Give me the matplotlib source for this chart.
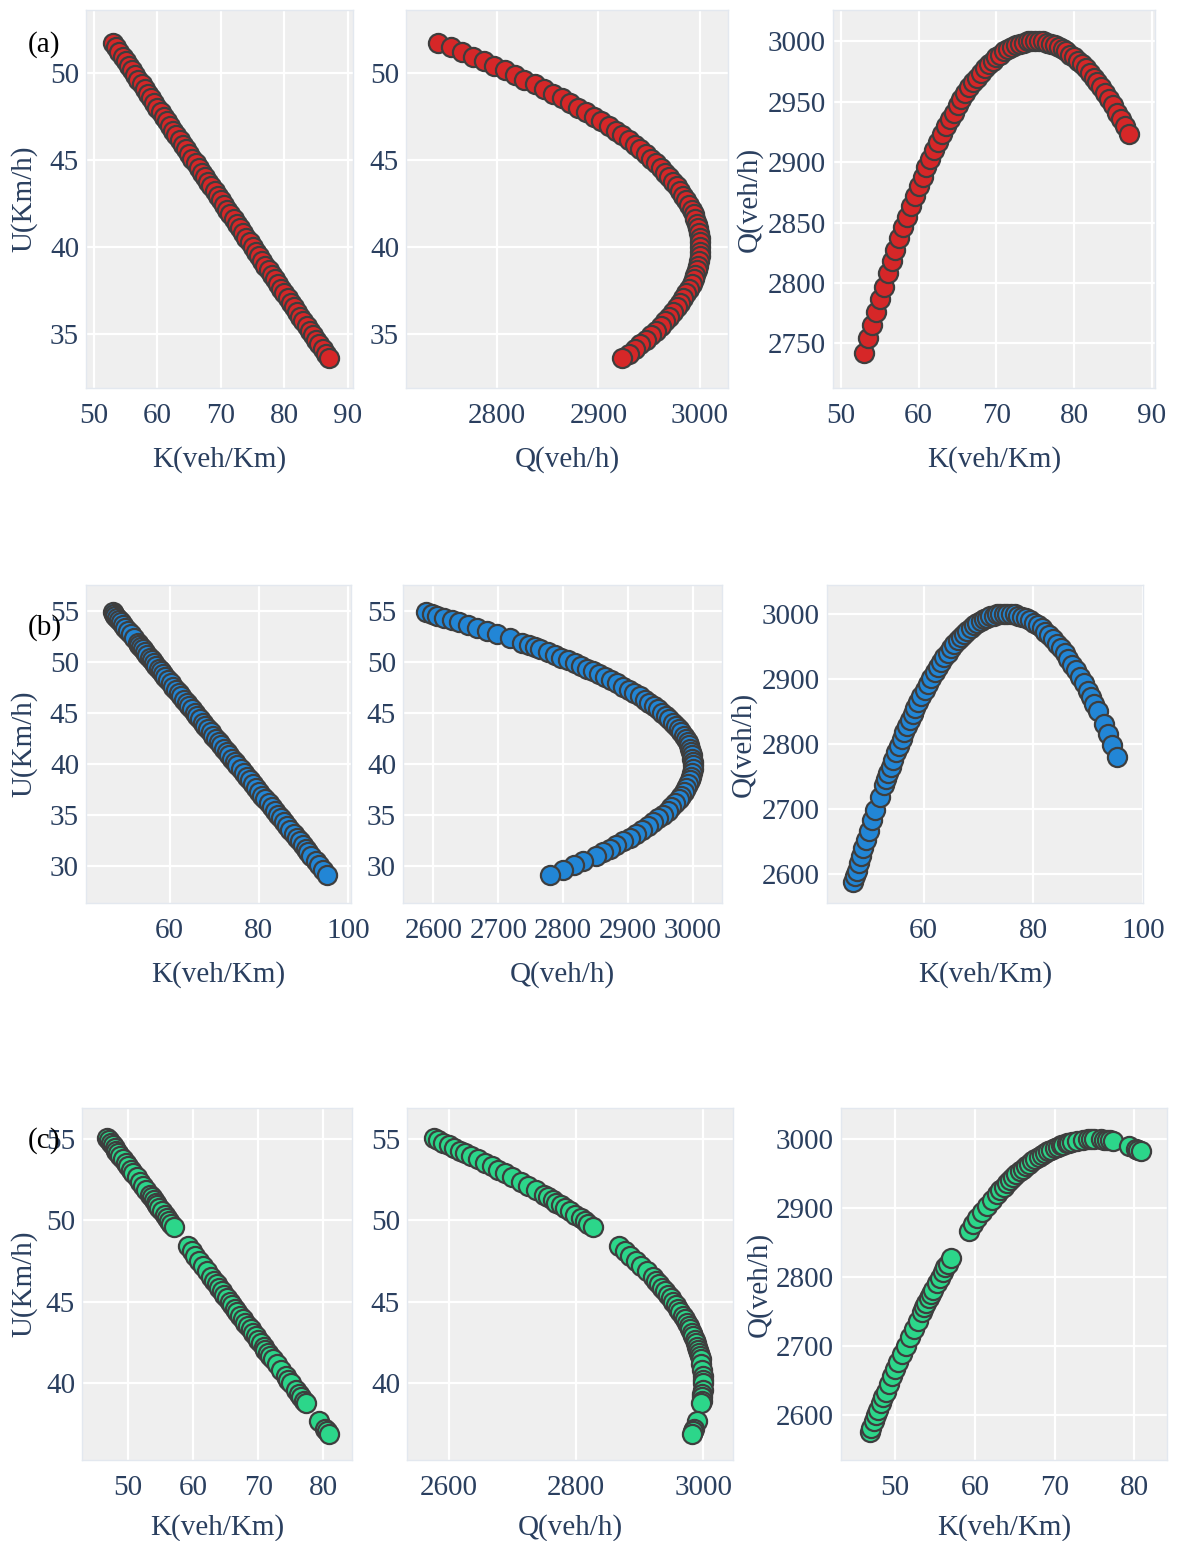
import matplotlib
matplotlib.use('Agg')
import matplotlib.pyplot as plt

# ---- data (K in veh/Km, U in Km/h, Q in veh/h) ----
k_a = [53.0, 53.5, 54.0, 54.5, 55.0, 55.5, 56.0, 56.5, 57.0, 57.5,
       58.0, 58.5, 59.0, 59.5, 60.0, 60.5, 61.0, 61.5, 62.0, 62.5,
       63.0, 63.5, 64.0, 64.5, 65.0, 65.5, 66.0, 66.5, 67.0, 67.5,
       68.0, 68.5, 69.0, 69.5, 70.0, 70.5, 71.0, 71.5, 72.0, 72.5,
       73.0, 73.5, 74.0, 74.5, 75.0, 75.5, 76.0, 76.5, 77.0, 77.5,
       78.0, 78.5, 79.0, 79.5, 80.0, 80.5, 81.0, 81.5, 82.0, 82.5,
       83.0, 83.5, 84.0, 84.5, 85.0, 85.5, 86.0, 86.5, 87.0]
u_a = [51.73, 51.47, 51.20, 50.93, 50.67, 50.40, 50.13, 49.87, 49.60, 49.33,
       49.07, 48.80, 48.53, 48.27, 48.00, 47.73, 47.47, 47.20, 46.93, 46.67,
       46.40, 46.13, 45.87, 45.60, 45.33, 45.07, 44.80, 44.53, 44.27, 44.00,
       43.73, 43.47, 43.20, 42.93, 42.67, 42.40, 42.13, 41.87, 41.60, 41.33,
       41.07, 40.80, 40.53, 40.27, 40.00, 39.73, 39.47, 39.20, 38.93, 38.67,
       38.40, 38.13, 37.87, 37.60, 37.33, 37.07, 36.80, 36.53, 36.27, 36.00,
       35.73, 35.47, 35.20, 34.93, 34.67, 34.40, 34.13, 33.87, 33.60]
q_a = [2742, 2754, 2765, 2776, 2787, 2797, 2808, 2818, 2827, 2837,
       2846, 2855, 2864, 2872, 2880, 2888, 2896, 2903, 2910, 2917,
       2923, 2930, 2936, 2941, 2947, 2952, 2957, 2962, 2966, 2970,
       2974, 2978, 2981, 2984, 2987, 2989, 2992, 2994, 2995, 2997,
       2998, 2999, 3000, 3000, 3000, 3000, 3000, 2999, 2998, 2997,
       2995, 2994, 2992, 2989, 2987, 2984, 2981, 2978, 2974, 2970,
       2966, 2962, 2957, 2952, 2947, 2941, 2936, 2930, 2923]

k_b = [47.2, 47.5, 47.8, 48.2, 48.6, 49.0, 49.5, 50.0, 50.6, 51.2,
       52.0, 52.8, 53.2, 53.6, 54.0, 54.5, 55.0, 55.5, 56.0, 56.5,
       57.0, 57.5, 58.0, 58.5, 59.0, 59.6, 60.2, 60.8, 61.4, 62.0,
       62.6, 63.2, 63.8, 64.4, 65.0, 65.6, 66.2, 66.8, 67.4, 68.0,
       68.6, 69.2, 69.8, 70.4, 71.0, 71.6, 72.2, 72.8, 73.4, 74.0,
       74.6, 75.2, 75.9, 76.6, 77.3, 78.0, 78.7, 79.4, 80.1, 80.8,
       81.5, 82.2, 82.9, 83.6, 84.3, 85.0, 85.7, 86.4, 87.1, 87.8,
       88.5, 89.2, 89.9, 90.5, 91.1, 91.8, 92.8, 93.6, 94.4, 95.3]
u_b = [54.83, 54.67, 54.51, 54.29, 54.08, 53.87, 53.60, 53.33, 53.01, 52.69,
       52.27, 51.84, 51.63, 51.41, 51.20, 50.93, 50.67, 50.40, 50.13, 49.87,
       49.60, 49.33, 49.07, 48.80, 48.53, 48.21, 47.89, 47.57, 47.25, 46.93,
       46.61, 46.29, 45.97, 45.65, 45.33, 45.01, 44.69, 44.37, 44.05, 43.73,
       43.41, 43.09, 42.77, 42.45, 42.13, 41.81, 41.49, 41.17, 40.85, 40.53,
       40.21, 39.89, 39.52, 39.15, 38.77, 38.40, 38.03, 37.65, 37.28, 36.91,
       36.53, 36.16, 35.79, 35.41, 35.04, 34.67, 34.29, 33.92, 33.55, 33.17,
       32.80, 32.43, 32.05, 31.73, 31.41, 31.04, 30.51, 30.08, 29.65, 29.17]
q_b = [2588, 2597, 2605, 2617, 2628, 2640, 2653, 2667, 2683, 2698,
       2718, 2737, 2747, 2756, 2765, 2776, 2787, 2797, 2808, 2818,
       2827, 2837, 2846, 2855, 2864, 2874, 2883, 2892, 2901, 2910,
       2918, 2926, 2933, 2940, 2947, 2953, 2959, 2964, 2969, 2974,
       2978, 2982, 2986, 2989, 2992, 2994, 2996, 2997, 2999, 2999,
       3000, 3000, 3000, 2999, 2997, 2995, 2993, 2990, 2986, 2982,
       2978, 2972, 2967, 2961, 2954, 2947, 2939, 2931, 2922, 2913,
       2903, 2893, 2882, 2872, 2862, 2850, 2831, 2816, 2799, 2780]

k_c = [46.8, 47.0, 47.3, 47.6, 47.9, 48.2, 48.5, 48.8, 49.2, 49.6,
       50.0, 50.4, 50.8, 51.3, 51.8, 52.3, 52.8, 53.3, 53.6, 53.9,
       54.2, 54.5, 54.8, 55.2, 55.6, 56.0, 56.3, 56.6, 57.0,
       59.2, 59.8, 60.3, 60.9, 61.5, 62.1, 62.8, 63.2, 63.6, 64.0,
       64.4, 64.8, 65.2, 65.6, 66.0, 66.4, 66.8, 67.2, 67.6, 68.0,
       68.4, 68.8, 69.2, 69.6, 70.0, 70.4, 70.8, 71.1, 71.5, 71.8,
       72.2, 72.8, 73.5, 74.2, 74.6, 75.0, 75.8, 76.2, 76.6, 77.0,
       77.3, 79.3, 80.2, 80.5, 80.8]
u_c = [55.04, 54.93, 54.77, 54.61, 54.45, 54.29, 54.13, 53.97, 53.76, 53.55,
       53.33, 53.12, 52.91, 52.64, 52.37, 52.11, 51.84, 51.57, 51.41, 51.25,
       51.09, 50.93, 50.77, 50.56, 50.35, 50.13, 49.97, 49.81, 49.60,
       48.43, 48.11, 47.84, 47.52, 47.20, 46.88, 46.51, 46.29, 46.08, 45.87,
       45.65, 45.44, 45.23, 45.01, 44.80, 44.59, 44.37, 44.16, 43.95, 43.73,
       43.52, 43.31, 43.09, 42.88, 42.67, 42.45, 42.24, 42.08, 41.87, 41.71,
       41.49, 41.17, 40.80, 40.43, 40.21, 40.00, 39.57, 39.36, 39.15, 38.93,
       38.77, 37.71, 37.23, 37.07, 36.91]
q_c = [2576, 2582, 2591, 2600, 2608, 2617, 2626, 2634, 2645, 2656,
       2667, 2677, 2688, 2700, 2713, 2725, 2737, 2749, 2756, 2763,
       2769, 2776, 2782, 2791, 2799, 2808, 2814, 2819, 2827,
       2867, 2877, 2885, 2894, 2903, 2911, 2921, 2926, 2931, 2936,
       2940, 2945, 2949, 2953, 2957, 2961, 2964, 2968, 2971, 2974,
       2977, 2980, 2982, 2984, 2987, 2989, 2991, 2992, 2994, 2995,
       2996, 2997, 2999, 3000, 3000, 3000, 3000, 2999, 2999, 2998,
       2997, 2990, 2986, 2984, 2982]

row_labels = ['(a)', '(b)', '(c)']
colors = ['#D62728', '#2286D6', '#2CD68A']

# pixel boxes (left, top, right, bottom) of the 9 plot areas
W, H = 1178, 1541
boxes = [
    [(86, 10, 353, 388), (406, 10, 728, 388), (833, 10, 1155, 388)],
    [(86, 585, 351, 903), (403, 585, 722, 903), (827, 585, 1143, 903)],
    [(82, 1108, 352, 1460), (407, 1108, 733, 1460), (841, 1108, 1167, 1460)],
]
# axis limits per panel: (xlim, ylim)
limits = [
    [((48.75, 90.8), (31.9, 53.6)), ((2710, 3028), (31.9, 53.6)), ((48.97, 90.4), (2713, 3026))],
    [((41.2, 100.7), (26.4, 57.5)), ((2553, 3045), (26.4, 57.5)), ((42.4, 100.0), (2556, 3044))],
    [((42.9, 84.4), (35.3, 56.9)), ((2534, 3047), (35.3, 56.9)), ((43.2, 84.1), (2535, 3045))],
]
xticks = [
    [[50, 60, 70, 80, 90], [2800, 2900, 3000], [50, 60, 70, 80, 90]],
    [[60, 80, 100], [2600, 2700, 2800, 2900, 3000], [60, 80, 100]],
    [[50, 60, 70, 80], [2600, 2800, 3000], [50, 60, 70, 80]],
]
yticks = [
    [[35, 40, 45, 50], [35, 40, 45, 50], [2750, 2800, 2850, 2900, 2950, 3000]],
    [[30, 35, 40, 45, 50, 55], [30, 35, 40, 45, 50, 55], [2600, 2700, 2800, 2900, 3000]],
    [[40, 45, 50, 55], [40, 45, 50, 55], [2600, 2700, 2800, 2900, 3000]],
]
# right edge (px) of the rotated y titles
ylabel_x = [[37, None, 763], [37, None, 757], [37, None, 773]]
xlabel_pad = [12, 12, 9]

rows = [(k_a, u_a, q_a), (k_b, u_b, q_b), (k_c, u_c, q_c)]

plt.rcParams['font.family'] = ['Liberation Serif', 'DejaVu Serif']
txt = '#2a3f5f'
fs = 21

fig = plt.figure(figsize=(W / 100, H / 100), dpi=100)

for r, (k, u, q) in enumerate(rows):
    pairs = [(k, u, 'K(veh/Km)', 'U(Km/h)'),
             (q, u, 'Q(veh/h)', None),
             (k, q, 'K(veh/Km)', 'Q(veh/h)')]
    for c, (xs, ys, xl, yl) in enumerate(pairs):
        l, t, rr, b = boxes[r][c]
        ax = fig.add_axes([l / W, 1 - b / H, (rr - l) / W, (b - t) / H])
        ax.set_facecolor('#EFEFEF')
        ax.scatter(xs, ys, s=190, color=colors[r], edgecolors='#3E3E3E',
                   linewidths=1.6, zorder=3)
        ax.set_xlim(*limits[r][c][0])
        ax.set_ylim(*limits[r][c][1])
        ax.set_xticks(xticks[r][c])
        ax.set_yticks(yticks[r][c])
        ax.grid(True, color='white', linewidth=1.6, zorder=0)
        ax.set_axisbelow(True)
        for sp in ax.spines.values():
            sp.set_color('#E3E8EF')
            sp.set_linewidth(1.0)
        ax.tick_params(axis='x', length=0, labelsize=fs, labelcolor=txt, pad=11)
        ax.tick_params(axis='y', length=0, labelsize=fs, labelcolor=txt, pad=5)
        ax.set_xlabel(xl, fontsize=fs, color=txt, labelpad=xlabel_pad[r])
        if yl:
            ax.set_ylabel(yl, fontsize=fs, color=txt)
            yc = (t + b) / 2
            ax.yaxis.set_label_coords(ylabel_x[r][c] / W, 1 - yc / H,
                                      transform=fig.transFigure)

# row tags
fig.text(28 / W, 1 - 45 / H, row_labels[0], fontsize=fs, color='black', va='center')
fig.text(28 / W, 1 - 628 / H, row_labels[1], fontsize=fs, color='black', va='center')
fig.text(28 / W, 1 - 1141 / H, row_labels[2], fontsize=fs, color='black', va='center')

fig.savefig('out.png', dpi=100)
